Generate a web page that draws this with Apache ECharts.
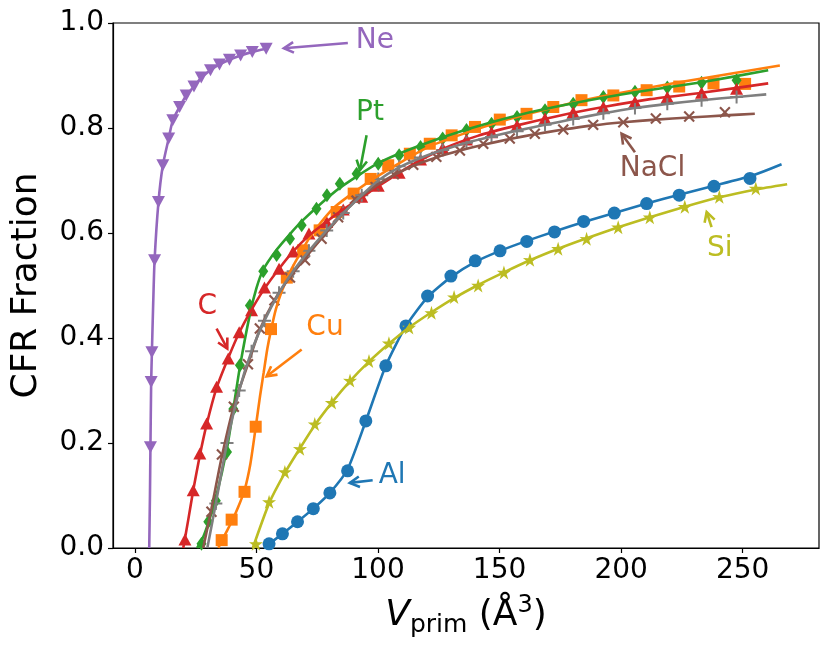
<!DOCTYPE html>
<html>
<head>
<meta charset="utf-8">
<script src="https://cdn.jsdelivr.net/npm/echarts@6/dist/echarts.min.js"></script>
<style>
  html, body { margin: 0; padding: 0; background: #fff; }
  #main { width: 830px; height: 655px; }
</style>
</head>
<body>
<div id="main"></div>
<script>
var vTicks = [0, 50, 100, 150, 200, 250];

// Al
var alV = [55.2, 60.7, 66.9, 73.4, 80.2, 87.5, 95.0, 103.2, 111.5, 120.4, 130.0, 140.0, 150.2, 161.2, 172.6, 184.6, 197.2, 210.5, 223.9, 238.2, 253.0];
var alF = [0.008, 0.027, 0.050, 0.075, 0.105, 0.147, 0.242, 0.347, 0.423, 0.480, 0.518, 0.547, 0.566, 0.584, 0.602, 0.622, 0.638, 0.656, 0.672, 0.689, 0.704];
var alFitV = [53.0, 60.7, 66.9, 73.4, 80.2, 87.5, 95.0, 103.2, 111.5, 120.4, 130.0, 140.0, 150.2, 161.2, 172.6, 184.6, 197.2, 210.5, 223.9, 238.2, 253.0, 266.0];
var alFitF = [0, 0.027, 0.050, 0.075, 0.105, 0.150, 0.242, 0.347, 0.423, 0.478, 0.516, 0.545, 0.566, 0.585, 0.603, 0.621, 0.638, 0.656, 0.673, 0.690, 0.708, 0.731];

// Cu
var cuV = [35.7, 39.8, 45.1, 49.7, 56.0, 62.5, 69.2, 76.0, 83.0, 90.0, 97.0, 104.2, 113.1, 121.3, 130.3, 139.9, 150.1, 161.1, 172.1, 183.7, 196.8, 210.5, 223.9, 238.0, 251.0];
var cuF = [0.015, 0.054, 0.107, 0.231, 0.417, 0.515, 0.567, 0.605, 0.640, 0.675, 0.703, 0.729, 0.751, 0.770, 0.786, 0.802, 0.816, 0.827, 0.840, 0.853, 0.862, 0.872, 0.879, 0.885, 0.884];
var cuFitV = [34.3, 37.0, 39.8, 42.5, 45.1, 47.5, 49.7, 51.5, 53.0, 54.5, 56.0, 58.0, 60.5, 64.5, 68.5, 72.7, 82.3, 98.7, 121.3, 150.1, 183.7, 223.9, 265.3];
var cuFitF = [0, 0.025, 0.05, 0.078, 0.11, 0.16, 0.23, 0.29, 0.335, 0.38, 0.415, 0.455, 0.49, 0.532, 0.565, 0.597, 0.650, 0.705, 0.765, 0.812, 0.852, 0.887, 0.919];

// Pt
var ptV = [27.4, 30.2, 33.3, 37.9, 40.5, 43.2, 47.3, 52.8, 58.3, 63.8, 68.6, 74.7, 79.0, 84.3, 91.2, 100.1, 108.7, 117.5, 126.6, 136.4, 146.7, 157.2, 168.7, 180.3, 192.7, 205.7, 219.0, 233.1, 247.5];
var ptF = [0.008, 0.050, 0.090, 0.183, 0.265, 0.348, 0.462, 0.527, 0.558, 0.589, 0.615, 0.646, 0.672, 0.694, 0.713, 0.732, 0.748, 0.764, 0.780, 0.796, 0.808, 0.821, 0.834, 0.846, 0.859, 0.869, 0.877, 0.886, 0.891];
var ptFitV = [25.6, 28.0, 30.2, 33.3, 37.9, 40.5, 43.2, 47.3, 50.0, 52.8, 58.3, 63.8, 68.6, 76.0, 84.3, 100.1, 117.5, 136.4, 157.2, 180.3, 205.7, 233.1, 260.5];
var ptFitF = [0, 0.02, 0.048, 0.095, 0.19, 0.265, 0.345, 0.445, 0.495, 0.53, 0.568, 0.598, 0.622, 0.654, 0.686, 0.733, 0.767, 0.797, 0.824, 0.847, 0.868, 0.887, 0.910];

// C
var cV = [20.6, 24.0, 26.7, 29.5, 33.6, 38.4, 42.9, 48.0, 53.3, 59.3, 65.1, 71.6, 78.9, 85.7, 93.3, 100.1, 108.7, 117.5, 126.6, 136.4, 146.7, 157.2, 168.7, 180.3, 192.7, 205.7, 219.0, 233.1, 247.5];
var cF = [0.016, 0.110, 0.180, 0.237, 0.307, 0.361, 0.411, 0.453, 0.496, 0.532, 0.565, 0.599, 0.621, 0.645, 0.669, 0.690, 0.715, 0.740, 0.762, 0.778, 0.792, 0.805, 0.818, 0.830, 0.840, 0.850, 0.859, 0.867, 0.875];
var cFitV = [19.9, 22.0, 24.0, 26.7, 29.5, 33.6, 38.4, 42.9, 48.0, 53.3, 59.3, 65.1, 71.6, 78.9, 85.7, 93.3, 100.1, 113.0, 126.6, 141.0, 157.2, 175.0, 192.7, 212.0, 233.1, 260.5];
var cFitF = [0, 0.055, 0.110, 0.176, 0.235, 0.305, 0.362, 0.410, 0.454, 0.494, 0.532, 0.565, 0.595, 0.622, 0.645, 0.668, 0.689, 0.727, 0.760, 0.785, 0.805, 0.824, 0.840, 0.855, 0.867, 0.885];

// Ne
var neV = [6.4, 6.7, 7.0, 8.1, 9.7, 11.5, 13.9, 15.6, 18.4, 21.1, 24.3, 27.3, 31.1, 34.8, 38.9, 43.5, 48.3, 54.0];
var neF = [0.192, 0.316, 0.373, 0.548, 0.659, 0.729, 0.780, 0.815, 0.840, 0.862, 0.879, 0.896, 0.910, 0.921, 0.930, 0.938, 0.945, 0.951];
var neFitV = [5.9, 6.2, 6.4, 6.7, 7.0, 7.5, 8.1, 9.7, 11.5, 13.9, 15.6, 18.4, 21.1, 24.3, 27.3, 31.1, 34.8, 38.9, 43.5, 48.3, 54.0];
var neFitF = [0, 0.1, 0.192, 0.316, 0.373, 0.46, 0.548, 0.659, 0.729, 0.780, 0.815, 0.840, 0.862, 0.879, 0.896, 0.910, 0.921, 0.930, 0.938, 0.945, 0.951];

// NaCl
var naclV = [31.5, 35.8, 40.7, 46.5, 51.4, 57.4, 63.8, 70.0, 76.8, 83.6, 90.5, 98.5, 106.5, 114.5, 124.0, 133.7, 143.3, 154.2, 164.5, 176.2, 188.5, 200.9, 214.3, 228.0, 242.7];
var naclF = [0.069, 0.178, 0.269, 0.350, 0.418, 0.472, 0.515, 0.548, 0.589, 0.630, 0.665, 0.690, 0.712, 0.730, 0.745, 0.757, 0.770, 0.780, 0.789, 0.797, 0.806, 0.811, 0.818, 0.822, 0.830];
var naclFitV = [28.1, 31.5, 35.8, 40.7, 46.5, 51.4, 57.4, 63.8, 70.0, 76.8, 83.6, 90.5, 98.5, 106.5, 114.5, 124.0, 133.7, 143.3, 154.2, 164.5, 176.2, 188.5, 200.9, 214.3, 228.0, 242.7, 255.0];
var naclFitF = [0, 0.075, 0.175, 0.27, 0.350, 0.416, 0.472, 0.516, 0.552, 0.590, 0.627, 0.660, 0.688, 0.710, 0.728, 0.744, 0.757, 0.768, 0.779, 0.788, 0.797, 0.805, 0.811, 0.816, 0.820, 0.824, 0.827];

// unlabelled grey series
var greyV = [33.3, 37.9, 42.9, 48.0, 53.3, 59.3, 65.1, 71.6, 78.9, 85.7, 93.3, 100.1, 108.7, 117.5, 126.6, 136.4, 146.7, 157.2, 168.7, 180.3, 192.7, 205.7, 219.0, 233.1, 247.5];
var greyF = [0.085, 0.200, 0.300, 0.375, 0.433, 0.486, 0.527, 0.566, 0.605, 0.638, 0.672, 0.703, 0.727, 0.744, 0.758, 0.772, 0.783, 0.794, 0.806, 0.817, 0.828, 0.838, 0.846, 0.853, 0.859];
var greyFitV = [29.8, 33.3, 37.9, 42.9, 48.0, 53.3, 59.3, 65.1, 71.6, 78.9, 85.7, 93.3, 100.1, 108.7, 117.5, 126.6, 136.4, 146.7, 157.2, 168.7, 180.3, 192.7, 205.7, 219.0, 233.1, 247.5, 259.7];
var greyFitF = [0, 0.085, 0.200, 0.300, 0.375, 0.433, 0.486, 0.527, 0.566, 0.605, 0.638, 0.672, 0.700, 0.725, 0.743, 0.758, 0.772, 0.784, 0.795, 0.806, 0.817, 0.828, 0.838, 0.846, 0.853, 0.859, 0.864];

// Si
var siV = [49.8, 55.2, 61.7, 67.9, 74.0, 81.0, 88.5, 96.3, 104.5, 112.8, 122.0, 131.3, 141.2, 151.8, 162.5, 174.1, 185.8, 198.8, 211.8, 226.2, 240.4, 255.4];
var siF = [0.008, 0.088, 0.145, 0.189, 0.236, 0.277, 0.319, 0.356, 0.390, 0.420, 0.448, 0.478, 0.500, 0.525, 0.549, 0.570, 0.589, 0.611, 0.630, 0.650, 0.669, 0.685];
var siFitV = [48.5, 55.2, 61.7, 67.9, 74.0, 81.0, 88.5, 96.3, 104.5, 112.8, 122.0, 131.3, 141.2, 151.8, 162.5, 174.1, 185.8, 198.8, 211.8, 226.2, 240.4, 255.4, 268.3];
var siFitF = [0, 0.085, 0.143, 0.190, 0.234, 0.277, 0.318, 0.355, 0.389, 0.420, 0.449, 0.476, 0.501, 0.525, 0.548, 0.570, 0.590, 0.611, 0.630, 0.650, 0.668, 0.683, 0.693];

// annotations: label, text centre, arrow tail, arrow tip (data coords)
var annLabels = ['Ne', 'Pt', 'NaCl', 'Si', 'Al', 'C', 'Cu'];
var annText = [[98.7, 0.967], [96.7, 0.830], [212.9, 0.722], [240.6, 0.570], [105.8, 0.137], [29.8, 0.459], [78.2, 0.419]];
var annFrom = [[87.6, 0.962], [95.3, 0.786], [205.7, 0.754], [237.2, 0.611], [97.8, 0.129], [33.6, 0.418], [68.6, 0.378]];
var annTo = [[61.3, 0.952], [92.6, 0.720], [200.2, 0.789], [235.2, 0.640], [88.4, 0.124], [38.0, 0.380], [54.2, 0.327]];

var FONT = 'DejaVu Sans';
var plusPath = 'path://M5.5,0H7.5V5.5H13V7.5H7.5V13H5.5V7.5H0V5.5H5.5Z';
var starPath = 'path://M50,0L61.2,34.6L97.6,34.5L68.1,55.9L79.4,90.5L50,69L20.6,90.5L31.9,55.9L2.4,34.5L38.8,34.6Z';

var colors = {
  Al: '#1f77b4', Cu: '#ff7f0e', Pt: '#2ca02c', C: '#d62728',
  Ne: '#9467bd', NaCl: '#8c564b', grey: '#7f7f7f', Si: '#bcbd22'
};

function zip(a, b) {
  return a.map(function (x, i) { return [x, b[i]]; });
}

var materials = [
  { name: 'Al', v: alV, f: alF, fv: alFitV, ff: alFitF, symbol: 'circle', size: 13 },
  { name: 'Cu', v: cuV, f: cuF, fv: cuFitV, ff: cuFitF, symbol: 'rect', size: 12 },
  { name: 'Pt', v: ptV, f: ptF, fv: ptFitV, ff: ptFitF, symbol: 'diamond', size: [10, 14] },
  { name: 'C', v: cV, f: cF, fv: cFitV, ff: cFitF, symbol: 'triangle', size: [13, 12] },
  { name: 'Ne', v: neV, f: neF, fv: neFitV, ff: neFitF, symbol: 'triangle', size: [13, 12], rotate: 180 },
  { name: 'NaCl', v: naclV, f: naclF, fv: naclFitV, ff: naclFitF, symbol: plusPath, size: 14, rotate: 45 },
  { name: 'grey', v: greyV, f: greyF, fv: greyFitV, ff: greyFitF, symbol: plusPath, size: 13 },
  { name: 'Si', v: siV, f: siF, fv: siFitV, ff: siFitF, symbol: starPath, size: 14 }
];

var series = [];
materials.forEach(function (m) {
  series.push({
    type: 'scatter',
    name: m.name + ' data',
    data: zip(m.v, m.f),
    symbol: m.symbol,
    symbolSize: m.size,
    symbolRotate: m.rotate || 0,
    itemStyle: { color: colors[m.name], opacity: 1 },
    silent: true
  });
  series.push({
    type: 'line',
    name: m.name + ' fit',
    data: zip(m.fv, m.ff),
    smooth: 0.2,
    showSymbol: false,
    lineStyle: { color: colors[m.name], width: 2.6 },
    silent: true
  });
});

var annData = annLabels.map(function (l, i) {
  return [annText[i][0], annText[i][1], annFrom[i][0], annFrom[i][1], annTo[i][0], annTo[i][1]];
});

series.push({
  type: 'custom',
  data: annData,
  encode: { x: [0, 2, 4], y: [1, 3, 5] },
  z: 10,
  silent: true,
  renderItem: function (params, api) {
    var label = annLabels[params.dataIndex];
    var col = colors[label];
    var t = api.coord([api.value(0), api.value(1)]);
    var a = api.coord([api.value(2), api.value(3)]);
    var b = api.coord([api.value(4), api.value(5)]);
    var ang = Math.atan2(b[1] - a[1], b[0] - a[0]);
    var L = 11, spread = 0.5;
    var h1 = [b[0] - L * Math.cos(ang - spread), b[1] - L * Math.sin(ang - spread)];
    var h2 = [b[0] - L * Math.cos(ang + spread), b[1] - L * Math.sin(ang + spread)];
    return {
      type: 'group',
      children: [
        { type: 'line', shape: { x1: a[0], y1: a[1], x2: b[0], y2: b[1] },
          style: { stroke: col, lineWidth: 2.6 } },
        { type: 'polyline', shape: { points: [h1, b, h2] },
          style: { stroke: col, lineWidth: 2.6, fill: null } },
        { type: 'text', x: t[0], y: t[1],
          style: { text: label, fill: col, font: '28px "' + FONT + '"', align: 'center', verticalAlign: 'middle' } }
      ]
    };
  }
});

var chart = echarts.init(document.getElementById('main'), null, { renderer: 'canvas' });
chart.setOption({
  animation: false,
  backgroundColor: '#fff',
  textStyle: { fontFamily: FONT },
  grid: { left: 113, right: 11, top: 23, bottom: 107, show: true, borderColor: '#000', borderWidth: 1.2, containLabel: false },
  xAxis: {
    type: 'value',
    min: -9,
    max: 281.4,
    splitLine: { show: false },
    axisLine: { onZero: false, lineStyle: { color: '#000', width: 1.2 } },
    axisTick: { customValues: vTicks, length: 5, lineStyle: { color: '#000', width: 1.2 } },
    axisLabel: { customValues: vTicks, color: '#000', fontSize: 28, fontFamily: FONT, margin: 9 },
    name: '{v|V}{s|prim}{n| (Å}{p|3}{n|)}',
    nameLocation: 'middle',
    nameGap: 46,
    nameTextStyle: {
      color: '#000',
      rich: {
        v: { fontSize: 36, fontStyle: 'italic', fontFamily: FONT, lineHeight: 44, color: '#000' },
        s: { fontSize: 25, fontFamily: FONT, verticalAlign: 'bottom', lineHeight: 30, color: '#000' },
        n: { fontSize: 36, fontFamily: FONT, lineHeight: 44, color: '#000' },
        p: { fontSize: 24, fontFamily: FONT, verticalAlign: 'top', lineHeight: 24, color: '#000' }
      }
    }
  },
  yAxis: {
    type: 'value',
    min: 0,
    max: 1,
    interval: 0.2,
    splitLine: { show: false },
    axisLine: { show: true, onZero: false, lineStyle: { color: '#000', width: 1.2 } },
    axisTick: { show: true, length: 5, lineStyle: { color: '#000', width: 1.2 } },
    axisLabel: { color: '#000', fontSize: 28, fontFamily: FONT, margin: 9,
      formatter: function (v) { return v.toFixed(1); } },
    name: 'CFR Fraction',
    nameLocation: 'middle',
    nameGap: 68,
    nameTextStyle: { color: '#000', fontSize: 36, fontFamily: FONT }
  },
  series: series
});
</script>
</body>
</html>
